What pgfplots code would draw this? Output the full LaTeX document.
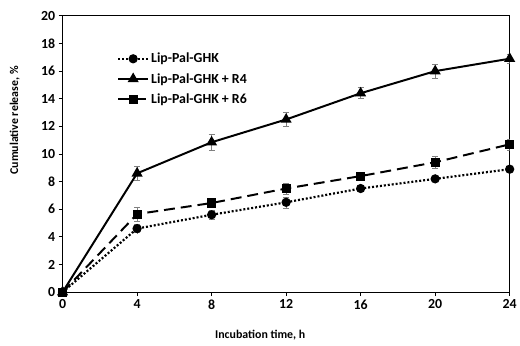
\documentclass[border=0pt]{standalone}
\usepackage{pgfplots}
\pgfplotsset{compat=1.18}
\usepackage{fontspec}
\setmainfont{Carlito}
\begin{document}
\begin{tikzpicture}
\begin{axis}[
  at={(0,0)}, anchor=south west,
  scale only axis, width=450bp, height=278bp,
  xmin=0, xmax=24, ymin=0, ymax=20,
  xtick={0,4,...,24}, ytick={0,2,...,20},
  tick align=outside, tick pos=left,
  major tick length=4bp,
  axis line style={line width=1.2pt},
  tick style={line width=1pt, black},
  ticklabel style={font=\bfseries\fontsize{14}{16}\selectfont},
  /pgf/number format/assume math mode=true,
  xlabel={\bfseries Incubation time, h},
  ylabel={\bfseries Cumulative release, \%},
  label style={font=\bfseries\fontsize{12}{14}\selectfont},
  xlabel style={at={(axis description cs:0.442,-0.155)}, anchor=center},
  ylabel style={at={(axis description cs:-0.107,0.622)}, anchor=center},
  legend style={draw=none, fill=none, at={(0.115,0.88)}, anchor=north west,
    font=\bfseries\fontsize{14}{16}\selectfont, row sep=5bp},
  legend cell align=left,
  legend image code/.code={\draw[mark repeat=2,mark phase=2] plot coordinates {(0bp,0bp) (15bp,0bp) (30bp,0bp)};},
  every axis plot/.append style={line width=2pt, black},
  error bars/error bar style={gray, line width=0.6pt},
  error bars/error mark options={rotate=90, mark size=3bp, gray, line width=0.6pt},
]
\addplot[dotted, line width=2.2pt, mark=*, mark size=3.5bp, mark options={solid},
  error bars/.cd, y dir=both, y explicit]
 coordinates {(0,0) +- (0,0) (4,4.6) +- (0,0.3) (8,5.6) +- (0,0.3) (12,6.5) +- (0,0.4) (16,7.5) +- (0,0.2) (20,8.2) +- (0,0.2) (24,8.9) +- (0,0.2)};
\addlegendentry{Lip-Pal-GHK}
\addplot[solid, mark=triangle*, mark size=4.5bp, mark options={solid},
  error bars/.cd, y dir=both, y explicit]
 coordinates {(0,0) +- (0,0) (4,8.6) +- (0,0.5) (8,10.85) +- (0,0.6) (12,12.5) +- (0,0.5) (16,14.4) +- (0,0.4) (20,16.0) +- (0,0.5) (24,16.9) +- (0,0.3)};
\addlegendentry{Lip-Pal-GHK + R4}
\addplot[dash pattern=on 11bp off 6bp, mark=square*, mark size=3.6bp, mark options={solid},
  error bars/.cd, y dir=both, y explicit]
 coordinates {(0,0) +- (0,0) (4,5.65) +- (0,0.5) (8,6.45) +- (0,0.3) (12,7.5) +- (0,0.4) (16,8.4) +- (0,0.3) (20,9.4) +- (0,0.4) (24,10.7) +- (0,0.4)};
\addlegendentry{Lip-Pal-GHK + R6}
\end{axis}
\useasboundingbox (-63bp,-54bp) rectangle (457bp,294bp);
\end{tikzpicture}
\end{document}
